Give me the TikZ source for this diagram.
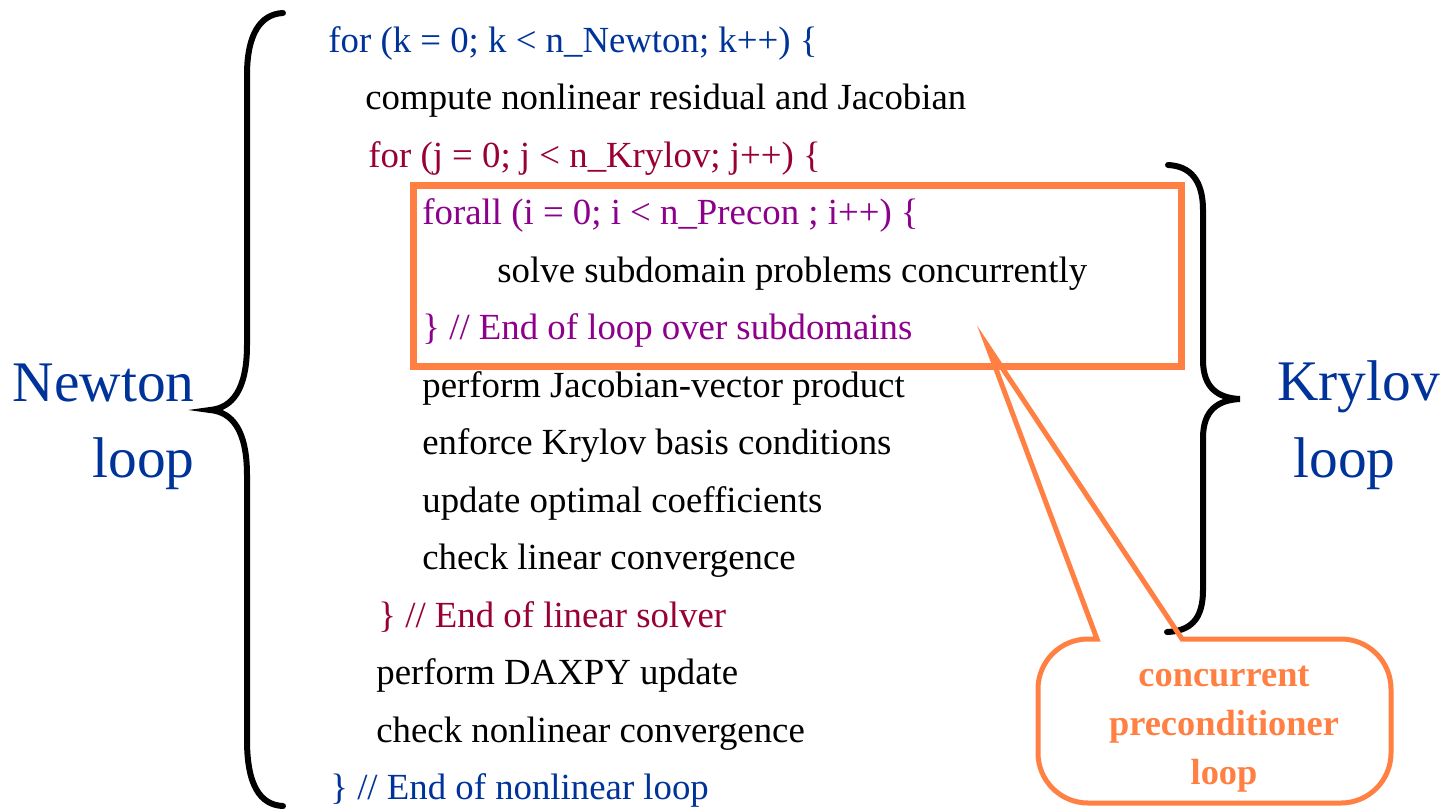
\documentclass[tikz,border=0pt]{standalone}
\usepackage{fontspec}
\setmainfont{Liberation Serif}

\definecolor{newtonblue}{RGB}{0,51,153}
\definecolor{krylovred}{RGB}{153,0,51}
\definecolor{preconpurple}{RGB}{140,0,140}
\definecolor{calloutorange}{RGB}{255,128,66}

\newcommand{\codesize}{\fontsize{18.4}{22}\selectfont}
\newcommand{\labelsize}{\fontsize{28.7}{34}\selectfont}
\newcommand{\calloutsize}{\fontsize{18.2}{24.5}\selectfont}

\begin{document}
\begin{tikzpicture}[x=0.5pt, y=-0.5pt,
    codeline/.style={anchor=base west, inner sep=0pt, font=\codesize},
    looplabel/.style={inner sep=0pt, font=\labelsize, text=newtonblue},
    brace/.style={line width=3pt, line cap=round},
    callout/.style={draw=calloutorange, line width=2.5pt},
]
    \useasboundingbox (0,0) rectangle (1445,809);

    % Newton loop
    \node[codeline, text=newtonblue] (kLoop) at (328,52) {for (k = 0; k < n\_Newton; k++) \{};
    \node[codeline] (computeRes) at (365,109.5) {compute nonlinear residual and Jacobian};

    % Krylov loop
    \node[codeline, text=krylovred] (jLoop) at (368,167) {for (j = 0; j < n\_Krylov; j++) \{};

    % Preconditioner loop
    \node[codeline, text=preconpurple] (iLoop) at (422,224.5) {forall (i = 0; i < n\_Precon ; i++) \{};
    \node[codeline] (solveSub) at (497,282) {solve subdomain problems concurrently};
    \node[codeline, text=preconpurple] (endI) at (422,339.5) {\} // End of loop over subdomains};

    \node[codeline] (jacVec) at (422,397) {perform Jacobian-vector product};
    \node[codeline] (krylovBasis) at (422,454.5) {enforce Krylov basis conditions};
    \node[codeline] (optCoef) at (422,512) {update optimal coefficients};
    \node[codeline] (linConv) at (422,569.5) {check linear convergence};
    \node[codeline, text=krylovred] (endJ) at (378,627) {\} // End of linear solver};

    \node[codeline] (daxpy) at (376,684.5) {perform DAXPY update};
    \node[codeline] (nonlinConv) at (376,742) {check nonlinear convergence};
    \node[codeline, text=newtonblue] (endK) at (330,799.5) {\} // End of nonlinear loop};

    % Box round the preconditioner loop
    \draw[calloutorange, line width=3.5pt] (413,185) rectangle (1181,366);

    % Braces
    \draw[brace] (283,13) .. controls (260,14) and (247,35) .. (247,75)
        -- (247,345) .. controls (247,390) and (232,408) .. (210,410)
        .. controls (232,412) and (247,430) .. (247,475)
        -- (247,740) .. controls (247,785) and (260,805) .. (283,806);
    \draw[brace] (1168,165) .. controls (1190,166) and (1203,180) .. (1203,210)
        -- (1203,360) .. controls (1203,388) and (1218,398) .. (1240,399)
        .. controls (1218,400) and (1203,410) .. (1203,438)
        -- (1203,590) .. controls (1203,620) and (1190,631) .. (1167,632);

    % Brace labels
    \node[looplabel, anchor=base east] (newtonLabel) at (195,401) {Newton};
    \node[looplabel, anchor=base east] (newtonLoop) at (195,477) {loop};
    \node[looplabel, anchor=base west] (krylovLabel) at (1277,400) {Krylov};
    \node[looplabel, anchor=base west] (krylovLoop) at (1293,477) {loop};

    % Callout
    \coordinate (pointerTip) at (987,345);
    \draw[callout] (1182,639) [rounded corners=25] -- (1391,639) -- (1391,803)
        -- (1038,803) -- (1038,639) [sharp corners] -- (1097,639)
        -- (pointerTip) -- cycle;
    \node[inner sep=0pt, align=center, font=\calloutsize\bfseries, text=calloutorange]
        (calloutText) at (1224,729) {concurrent\\preconditioner\\loop};
\end{tikzpicture}
\end{document}
